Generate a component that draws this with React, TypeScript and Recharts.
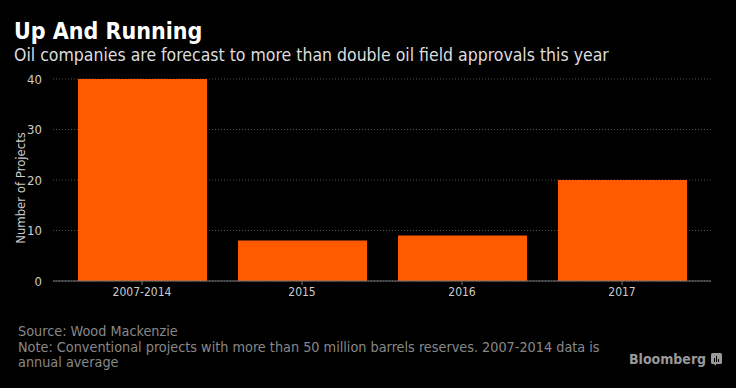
import { Bar, BarChart, CartesianGrid, XAxis, YAxis } from 'recharts'

const categories = ['2007-2014', '2015', '2016', '2017']
const projects = [40, 8, 9, 20]
const yTicks = [0, 10, 20, 30, 40]

const data = categories.map((period, i) => ({ period, projects: projects[i] }))

const font = '"DejaVu Sans Condensed", "DejaVu Sans", sans-serif'

export default function App() {
  return (
    <div
      style={{
        position: 'fixed',
        top: 0,
        left: 0,
        width: 736,
        height: 388,
        background: '#000',
        fontFamily: font,
        overflow: 'hidden',
      }}
    >
      <BarChart
        width={736}
        height={388}
        data={data}
        margin={{ top: 79, right: 25, left: 0, bottom: 77 }}
      >
        <CartesianGrid vertical={false} stroke="#555" strokeDasharray="1 2" />
        <XAxis
          dataKey="period"
          height={30}
          padding={{ left: 9, right: 9 }}
          tick={{ fontSize: 12, fill: '#ccc', fontFamily: font }}
          tickLine={{ stroke: '#777' }}
          tickSize={4}
          axisLine={{ stroke: '#777' }}
          interval={0}
        />
        <YAxis
          width={53}
          domain={[0, 40]}
          ticks={yTicks}
          tick={{ fontSize: 13, fill: '#ccc', fontFamily: font }}
          tickLine={false}
          axisLine={false}
          tickMargin={5}
        />
        <Bar dataKey="projects" fill="#ff5a00" barSize={129} isAnimationActive={false} />
      </BarChart>

      <div
        style={{
          position: 'absolute',
          left: 20,
          top: 188,
          transform: 'translate(-50%, -50%) rotate(-90deg)',
          color: '#ccc',
          fontSize: 13,
          whiteSpace: 'nowrap',
        }}
      >
        Number of Projects
      </div>

      <div
        style={{
          position: 'absolute',
          left: 14,
          top: 18,
          color: '#fff',
          fontSize: 23,
          fontWeight: 'bold',
          whiteSpace: 'nowrap',
        }}
      >
        Up And Running
      </div>
      <div
        style={{
          position: 'absolute',
          left: 14,
          top: 45,
          color: '#ddd',
          fontSize: 17.5,
          whiteSpace: 'nowrap',
        }}
      >
        Oil companies are forecast to more than double oil field approvals this year
      </div>

      <div
        style={{
          position: 'absolute',
          left: 18,
          top: 324,
          color: '#888',
          fontSize: 14.3,
          lineHeight: '15.5px',
          width: 640,
        }}
      >
        <div>Source: Wood Mackenzie</div>
        <div>
          Note: Conventional projects with more than 50 million barrels reserves. 2007-2014 data is
          <br />
          annual average
        </div>
      </div>

      <div
        style={{
          position: 'absolute',
          left: 629,
          top: 351,
          color: '#999',
          fontSize: 14,
          fontWeight: 'bold',
          whiteSpace: 'nowrap',
          display: 'flex',
          alignItems: 'center',
          gap: 5,
        }}
      >
        Bloomberg
        <svg width={11} height={13} viewBox="0 0 11 13">
          <rect x={0} y={0} width={11} height={11} rx={1.5} fill="#999" />
          <path d="M3 11 L5 13 L5 11 Z" fill="#999" />
          <rect x={3} y={5} width={1} height={4} fill="#000" />
          <rect x={5} y={3} width={1} height={6} fill="#000" />
          <rect x={7} y={6} width={1} height={3} fill="#000" />
        </svg>
      </div>
    </div>
  )
}
